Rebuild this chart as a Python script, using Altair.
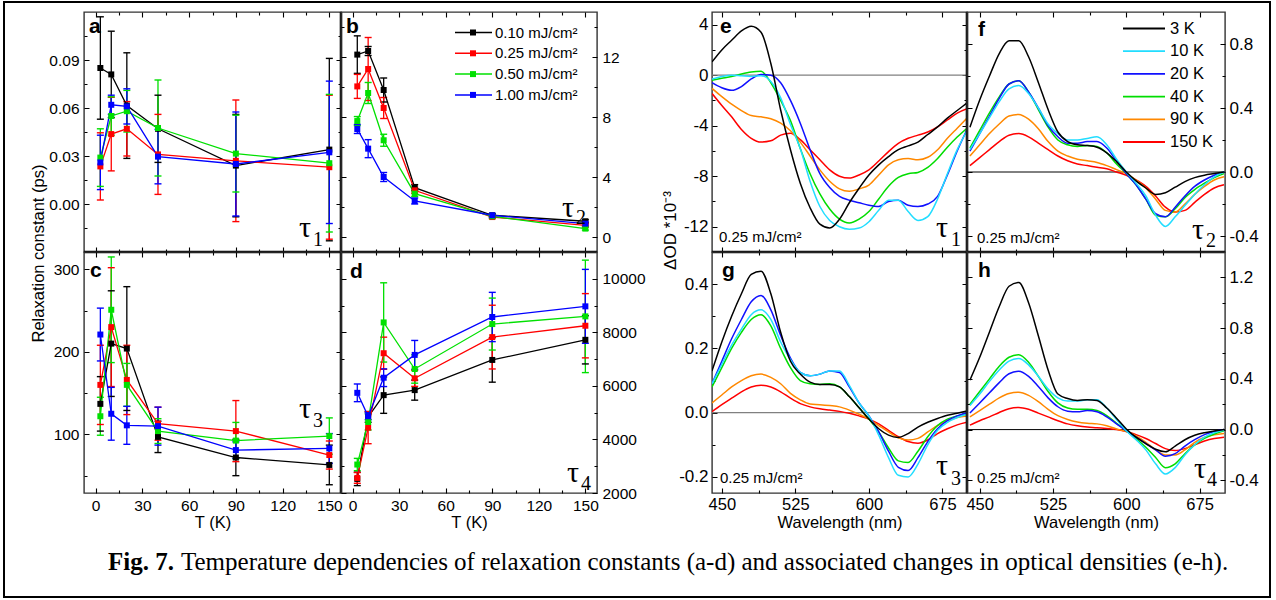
import json
import altair as alt
import pandas as pd

# ------------------------------------------------------------------ data
T_K = [3, 10, 20, 40, 90, 150]
FLUENCE = ["0.10 mJ/cm²", "0.25 mJ/cm²", "0.50 mJ/cm²", "1.00 mJ/cm²"]
FLUENCE_COLORS = ["#000000", "#ff0000", "#00e000", "#0000ff"]

TAU1 = [
    [0.085, 0.081, 0.0615, 0.047, 0.024, 0.034],
    [0.0235, 0.0437, 0.047, 0.031, 0.027, 0.023],
    [0.029, 0.055, 0.058, 0.0475, 0.0315, 0.0255],
    [0.026, 0.062, 0.061, 0.0296, 0.025, 0.0323],
]
TAU1_ERR = [
    [0.032, 0.027, 0.033, 0.021, 0.032, 0.057],
    [0.021, 0.023, 0.017, 0.025, 0.038, 0.045],
    [0.018, 0.012, 0.013, 0.030, 0.024, 0.043],
    [0.017, 0.006, 0.011, 0.017, 0.0325, 0.0445],
]
TAU2 = [
    [12.16, 12.4, 9.8, 3.29, 1.45, 1.05],
    [10.04, 11.2, 8.6, 3.11, 1.33, 0.78],
    [7.73, 9.6, 6.45, 2.89, 1.38, 0.56],
    [7.2, 5.89, 4.0, 2.4, 1.45, 0.89],
]
TAU2_ERR = [
    [1.25, 0.3, 0.8, 0.2, 0.1, 0.1],
    [0.8, 2.1, 0.7, 0.2, 0.1, 0.1],
    [0.3, 0.7, 0.4, 0.2, 0.1, 0.1],
    [0.3, 0.6, 0.3, 0.2, 0.1, 0.1],
]
TAU3 = [
    [137, 210, 204, 97, 72, 63],
    [160, 230, 166, 113, 104, 75],
    [122, 251, 160, 104, 92.5, 98],
    [221, 125, 111, 110, 81, 83],
]
TAU3_ERR = [
    [33, 64, 75, 19, 22, 24],
    [48, 72, 42, 20, 37, 17],
    [23, 64, 26, 15, 22, 22],
    [32, 32, 23, 23, 10, 18],
]
TAU4 = [
    [2526, 4840, 5655, 5842, 6969, 7720],
    [2563, 4441, 7220, 6282, 7822, 8246],
    [3063, 4653, 8370, 6631, 8309, 8596],
    [5741, 4866, 6305, 7157, 8573, 8971],
]
TAU4_ERR = [
    [250, 200, 680, 375, 830, 900],
    [200, 600, 600, 300, 1190, 1200],
    [230, 300, 1480, 530, 970, 2100],
    [330, 130, 330, 540, 920, 1380],
]

TEMPS = ["3 K", "10 K", "20 K", "40 K", "90 K", "150 K"]
TEMP_COLORS = ["#000000", "#22ddff", "#1010ff", "#00dd00", "#ff8800", "#ff0000"]
WAVELENGTH = [440, 450, 460, 470, 480, 490, 500, 510, 520, 530, 540, 550, 560, 570,
              580, 590, 600, 610, 620, 630, 640, 650, 660, 670, 680, 690, 700]

# order of rows: 3 K, 10 K, 20 K, 40 K, 90 K, 150 K
SPEC_TAU1 = [
    [1.05, 2.0, 2.76, 3.5, 3.87, 3.4, 0.92, -2.76, -5.9, -8.55, -10.5, -11.8, -12.1, -11.4,
     -10.1, -8.95, -7.9, -7.1, -6.45, -5.9, -5.6, -5.3, -4.7, -4.1, -3.4, -2.8, -2.2],
    [-0.3, -0.1, 0.0, -0.05, -0.1, -0.05, -0.5, -1.8, -3.9, -5.8, -8.4, -10.4, -11.5, -12.0,
     -12.2, -12.1, -11.6, -10.7, -9.9, -9.9, -10.8, -11.5, -11.2, -9.8, -7.8, -5.9, -4.4],
    [-0.6, -1.0, -1.2, -0.9, -0.3, 0.05, 0.0, -0.6, -2.0, -3.8, -5.9, -7.8, -8.9, -9.6,
     -9.9, -10.1, -10.3, -10.4, -10.0, -9.9, -10.3, -10.4, -10.2, -9.6, -7.9, -6.0, -4.3],
    [-0.4, -0.25, -0.1, 0.1, 0.25, 0.3, -0.6, -2.0, -3.6, -5.8, -7.8, -9.4, -10.6, -11.4,
     -11.7, -11.4, -10.8, -9.8, -8.8, -8.1, -7.8, -7.7, -7.3, -6.6, -5.7, -4.9, -4.2],
    [-1.05, -1.7, -2.3, -2.8, -3.2, -3.3, -3.45, -3.8, -4.4, -5.3, -6.4, -7.5, -8.4, -9.0,
     -9.2, -9.0, -8.7, -7.9, -7.1, -6.7, -6.6, -6.7, -6.5, -5.9, -5.0, -4.2, -3.4],
    [-1.45, -2.4, -3.3, -4.3, -5.0, -5.3, -5.2, -4.75, -4.6, -5.1, -5.9, -6.7, -7.5, -8.0,
     -8.15, -7.9, -7.5, -6.8, -6.05, -5.4, -5.0, -4.75, -4.5, -4.1, -3.55, -3.0, -2.65],
]
SPEC_TAU2 = [
    [0.28, 0.45, 0.6, 0.74, 0.82, 0.82, 0.72, 0.56, 0.39, 0.25, 0.19, 0.17, 0.165, 0.155,
     0.12, 0.065, 0.0, -0.055, -0.1, -0.14, -0.13, -0.095, -0.06, -0.035, -0.02, -0.01, 0.0],
    [0.14, 0.24, 0.34, 0.44, 0.52, 0.54, 0.49, 0.4, 0.3, 0.24, 0.2, 0.2, 0.21, 0.22,
     0.17, 0.08, 0.0, -0.07, -0.15, -0.27, -0.34, -0.28, -0.21, -0.14, -0.08, -0.03, 0.0],
    [0.13, 0.24, 0.35, 0.46, 0.55, 0.57, 0.5, 0.4, 0.29, 0.22, 0.18, 0.18, 0.19, 0.19,
     0.15, 0.07, -0.01, -0.08, -0.17, -0.26, -0.28, -0.22, -0.15, -0.09, -0.05, -0.02, 0.0],
    [0.15, 0.26, 0.37, 0.47, 0.55, 0.57, 0.5, 0.39, 0.28, 0.2, 0.17, 0.16, 0.165, 0.16,
     0.12, 0.05, -0.01, -0.08, -0.17, -0.27, -0.28, -0.23, -0.16, -0.11, -0.07, -0.035, -0.01],
    [0.1, 0.17, 0.24, 0.3, 0.35, 0.36, 0.33, 0.27, 0.19, 0.13, 0.1, 0.08, 0.07, 0.06,
     0.04, 0.015, -0.01, -0.05, -0.1, -0.17, -0.24, -0.25, -0.2, -0.14, -0.09, -0.05, -0.03],
    [0.04, 0.09, 0.14, 0.19, 0.23, 0.24, 0.22, 0.18, 0.14, 0.1, 0.07, 0.05, 0.04, 0.03,
     0.02, 0.0, -0.02, -0.05, -0.09, -0.15, -0.22, -0.25, -0.24, -0.19, -0.14, -0.1, -0.08],
]
SPEC_TAU3 = [
    [0.13, 0.22, 0.3, 0.37, 0.43, 0.44, 0.37, 0.25, 0.16, 0.12, 0.095, 0.088, 0.088, 0.08,
     0.05, 0.015, -0.02, -0.05, -0.07, -0.077, -0.065, -0.045, -0.03, -0.018, -0.008, -0.002, 0.005],
    [0.09, 0.15, 0.21, 0.26, 0.305, 0.32, 0.29, 0.22, 0.165, 0.125, 0.115, 0.12, 0.13, 0.13,
     0.085, 0.03, -0.01, -0.07, -0.14, -0.195, -0.2, -0.16, -0.1, -0.055, -0.03, -0.015, -0.005],
    [0.09, 0.16, 0.23, 0.29, 0.345, 0.365, 0.32, 0.24, 0.17, 0.125, 0.115, 0.12, 0.13, 0.125,
     0.08, 0.03, -0.01, -0.06, -0.12, -0.17, -0.18, -0.14, -0.09, -0.05, -0.025, -0.01, 0.0],
    [0.08, 0.14, 0.2, 0.25, 0.29, 0.305, 0.27, 0.2, 0.14, 0.1, 0.09, 0.088, 0.09, 0.08,
     0.05, 0.015, -0.02, -0.06, -0.11, -0.15, -0.155, -0.12, -0.075, -0.04, -0.02, -0.01, -0.005],
    [0.03, 0.055, 0.08, 0.1, 0.115, 0.12, 0.11, 0.09, 0.06, 0.04, 0.027, 0.025, 0.022, 0.018,
     0.008, -0.005, -0.02, -0.04, -0.06, -0.078, -0.085, -0.08, -0.06, -0.04, -0.025, -0.015, -0.01],
    [0.003, 0.025, 0.045, 0.065, 0.08, 0.085, 0.08, 0.065, 0.045, 0.028, 0.018, 0.012, 0.008, 0.004,
     -0.002, -0.01, -0.02, -0.035, -0.055, -0.075, -0.09, -0.095, -0.085, -0.065, -0.05, -0.038, -0.03],
]
SPEC_TAU4 = [
    [0.39, 0.57, 0.77, 0.97, 1.13, 1.16, 1.0, 0.74, 0.47, 0.28, 0.245, 0.23, 0.235, 0.23,
     0.17, 0.09, 0.005, -0.06, -0.11, -0.155, -0.175, -0.13, -0.08, -0.045, -0.025, -0.012, 0.0],
    [0.19, 0.28, 0.38, 0.47, 0.54, 0.56, 0.51, 0.42, 0.32, 0.25, 0.225, 0.225, 0.235, 0.235,
     0.17, 0.08, -0.01, -0.08, -0.16, -0.27, -0.35, -0.3, -0.2, -0.12, -0.06, -0.025, -0.005],
    [0.13, 0.21, 0.29, 0.37, 0.44, 0.46, 0.42, 0.34, 0.25, 0.18, 0.145, 0.14, 0.15, 0.14,
     0.1, 0.045, -0.01, -0.06, -0.11, -0.16, -0.21, -0.19, -0.13, -0.08, -0.04, -0.015, 0.0],
    [0.2, 0.3, 0.4, 0.5, 0.57, 0.59, 0.53, 0.42, 0.3, 0.21, 0.17, 0.16, 0.16, 0.15,
     0.11, 0.05, -0.01, -0.07, -0.14, -0.22, -0.3, -0.27, -0.19, -0.12, -0.07, -0.035, -0.01],
    [0.1, 0.15, 0.2, 0.25, 0.285, 0.295, 0.27, 0.22, 0.16, 0.11, 0.08, 0.06, 0.05, 0.045,
     0.03, 0.005, -0.015, -0.05, -0.1, -0.16, -0.2, -0.2, -0.16, -0.1, -0.06, -0.04, -0.03],
    [0.035, 0.07, 0.1, 0.135, 0.165, 0.175, 0.16, 0.13, 0.1, 0.07, 0.045, 0.03, 0.02, 0.015,
     0.008, 0.0, -0.015, -0.04, -0.07, -0.11, -0.15, -0.165, -0.15, -0.12, -0.09, -0.07, -0.06],
]

CAPTION_BOLD = "Fig. 7."
CAPTION_TEXT = ("Temperature dependencies of relaxation constants (a-d) and associated "
                "changes in optical densities (e-h).")

# ------------------------------------------------------------------ helpers
SANS = "Liberation Sans"
SERIF = "Liberation Serif"
T_MAJ, T_MIN = [0, 30, 60, 90, 120, 150], [15, 45, 75, 105, 135]
WL_MAJ, WL_MIN = [450, 525, 600, 675], [487.5, 562.5, 637.5]
TAU_FS, SUB_FS = 30, 20
LAB_LEFT, LAB_RIGHT = 15.5, 17


def make_axis(orient, majors, minors, fmt, span, size, **kw):
    test = "indexof(%s, datum.value) < 0" % json.dumps(majors)
    return alt.Axis(
        orient=orient, values=sorted(majors + minors), format=fmt,
        labelExpr=test + " ? '' : replace(datum.label, '\u2212', '-')",
        ticks=False, domain=False, grid=True, gridColor="#000000", gridOpacity=1,
        gridWidth=1.1,
        gridDash={"condition": {"test": test, "value": [3, span - 6, 3]},
                  "value": [5, span - 10, 5]},
        labelFont=SANS, labelFontSize=size, labelColor="#000000",
        labelFlush=False, labelOverlap=False, **kw)


def txt(s, x, y, size, font=SANS, weight="normal", align="left", baseline="alphabetic"):
    return alt.Chart(pd.DataFrame({"t": [s]})).mark_text(
        font=font, fontSize=size, fontWeight=weight, align=align, baseline=baseline,
        color="#000000").encode(x=alt.value(x), y=alt.value(y), text="t:N")


def tau_label(digit, x, y, dx, dy):
    return [txt("τ", x, y, TAU_FS, SERIF), txt(digit, dx, dy, SUB_FS, SERIF)]


def edge(w, h, right=False, bottom=False):
    out = []
    one = pd.DataFrame({"k": [0]})
    if right:
        out.append(alt.Chart(one).mark_rule(color="#000000", strokeWidth=2.6).encode(
            x=alt.value(w), y=alt.value(0), y2=alt.value(h)))
    if bottom:
        out.append(alt.Chart(one).mark_rule(color="#000000", strokeWidth=2.6).encode(
            x=alt.value(0), x2=alt.value(w), y=alt.value(h)))
    return out


def tau_panel(vals, errs, ydom, ymaj, ymin, yfmt, yorient, w, h, bottom_row, extra, ykw=None):
    rows = []
    for name, v, e in zip(FLUENCE, vals, errs):
        for t, y, d in zip(T_K, v, e):
            rows.append({"x": t, "y": y, "ylo": y - d, "yhi": y + d, "s": name})
    df = pd.DataFrame(rows)
    if bottom_row:
        xkw = dict(labels=True, labelPadding=5, title="T (K)", titleFont=SANS, titleFontSize=16.5,
                   titleFontWeight="normal", titleColor="#000000", titlePadding=1)
    else:
        xkw = dict(labels=False, title=None)
    ykw = ykw or {"title": None}
    xax = make_axis("bottom", T_MAJ, T_MIN, "d", h, LAB_LEFT, **xkw)
    yax = make_axis(yorient, ymaj, ymin, yfmt, w, LAB_LEFT, labelPadding=5, **ykw)
    xs = alt.Scale(domain=[-7.5, 157.5], nice=False, zero=False)
    ys = alt.Scale(domain=ydom, nice=False, zero=False)
    X = alt.X("x:Q", scale=xs, axis=xax)
    col = alt.Color("s:N", scale=alt.Scale(domain=FLUENCE, range=FLUENCE_COLORS), legend=None)
    base = alt.Chart(df)
    err = base.mark_rule(strokeWidth=1.3, clip=True).encode(
        X, alt.Y("ylo:Q", scale=ys, axis=yax), y2="yhi:Q", color=col)
    cap_lo = base.mark_tick(orient="horizontal", size=7, thickness=1.4, clip=True, opacity=1).encode(
        X, alt.Y("ylo:Q", scale=ys, axis=yax), color=col)
    cap_hi = base.mark_tick(orient="horizontal", size=7, thickness=1.4, clip=True, opacity=1).encode(
        X, alt.Y("yhi:Q", scale=ys, axis=yax), color=col)
    line = base.mark_line(strokeWidth=1.3, clip=True).encode(
        X, alt.Y("y:Q", scale=ys, axis=yax), color=col)
    pts = base.mark_point(shape="square", filled=True, size=36, opacity=1, clip=True).encode(
        X, alt.Y("y:Q", scale=ys, axis=yax), color=col)
    return alt.layer(err, cap_lo, cap_hi, line, pts, *extra).properties(width=w, height=h)


def spec_panel(curves, xdom, ydom, ymaj, ymin, yfmt, yorient, w, h, bottom_row, zero_color,
               zero_width, extra, ykw=None):
    rows = []
    for name, c in reversed(list(zip(TEMPS, curves))):
        for wl, v in zip(WAVELENGTH, c):
            rows.append({"x": wl, "y": v, "s": name})
    df = pd.DataFrame(rows)
    if bottom_row:
        xkw = dict(labels=True, labelPadding=3, title="Wavelength (nm)", titleFont=SANS,
                   titleFontSize=16.5, titleFontWeight="normal", titleColor="#000000",
                   titlePadding=2)
    else:
        xkw = dict(labels=False, title=None)
    ykw = ykw or {"title": None}
    xax = make_axis("bottom", WL_MAJ, WL_MIN, "d", h, 16.5, **xkw)
    yax = make_axis(yorient, ymaj, ymin, yfmt, w, LAB_RIGHT, labelPadding=4, **ykw)
    xs = alt.Scale(domain=xdom, nice=False, zero=False)
    ys = alt.Scale(domain=ydom, nice=False, zero=False)
    X = alt.X("x:Q", scale=xs, axis=xax)
    Y = alt.Y("y:Q", scale=ys, axis=yax)
    col = alt.Color("s:N", scale=alt.Scale(domain=TEMPS, range=TEMP_COLORS), legend=None)
    zero = alt.Chart(pd.DataFrame({"y": [0]})).mark_rule(
        color=zero_color, strokeWidth=zero_width).encode(alt.Y("y:Q", scale=ys, axis=yax))
    lines = alt.Chart(df).mark_line(strokeWidth=1.5, interpolate="monotone", clip=True).encode(
        X, Y, color=col)
    return alt.layer(zero, lines, *extra).properties(width=w, height=h)


# ------------------------------------------------------------------ legends
leg_b_df = pd.DataFrame({"s": FLUENCE, "yp": [20.5, 41.3, 62.1, 82.9]})
fcol = alt.Color("s:N", scale=alt.Scale(domain=FLUENCE, range=FLUENCE_COLORS), legend=None)
YP = alt.Y("yp:Q", scale=None, axis=None)
legend_b = [
    alt.Chart(leg_b_df).mark_rule(strokeWidth=1.5).encode(
        x=alt.value(114), x2=alt.value(151), y=YP, color=fcol),
    alt.Chart(leg_b_df).mark_point(shape="square", filled=True, size=36, opacity=1).encode(
        x=alt.value(132), y=YP, color=fcol),
    alt.Chart(leg_b_df).mark_text(align="left", baseline="middle", font=SANS, fontSize=15,
                                  color="#000000").encode(x=alt.value(154), y=YP, text="s:N"),
]
leg_f_df = pd.DataFrame({"s": TEMPS, "yp": [16.5, 39.2, 61.9, 84.6, 107.3, 130.0]})
tcol = alt.Color("s:N", scale=alt.Scale(domain=TEMPS, range=TEMP_COLORS), legend=None)
legend_f = [
    alt.Chart(leg_f_df).mark_rule(strokeWidth=1.8).encode(
        x=alt.value(156), x2=alt.value(198), y=YP, color=tcol),
    alt.Chart(leg_f_df).mark_text(align="left", baseline="middle", font=SANS, fontSize=16.5,
                                  color="#000000").encode(x=alt.value(203), y=YP, text="s:N"),
]

# ------------------------------------------------------------------ panels
WA, WB, H1, H2 = 257, 256, 240, 241
WE, WF = 255, 258
GAP = 115

pa = tau_panel(TAU1, TAU1_ERR, [-0.03, 0.12], [0, 0.03, 0.06, 0.09],
               [-0.015, 0.015, 0.045, 0.075, 0.105], ".2f", "left", WA, H1, False,
               [txt("a", 5, 21, 21, weight="bold")] + tau_label("1", 215, 225, 229, 234)
               + edge(WA, H1, right=True, bottom=True),
               ykw=dict(title="Relaxation constant (ps)", titleX=-46, titleY=241, titleAngle=270,
                        titleAlign="center", titleBaseline="middle", titleFont=SANS,
                        titleFontSize=16.5, titleFontWeight="normal", titleColor="#000000"))
pb = tau_panel(TAU2, TAU2_ERR, [-1, 15], [0, 4, 8, 12], [2, 6, 10, 14], "d", "right",
               WB, H1, False,
               [txt("b", 5, 21, 21, weight="bold")] + tau_label("2", 221, 205, 235, 212)
               + legend_b + edge(WB, H1, bottom=True))
pc = tau_panel(TAU3, TAU3_ERR, [29, 321], [100, 200, 300], [50, 150, 250], "d", "left",
               WA, H2, True,
               [txt("c", 6, 25, 21, weight="bold")] + tau_label("3", 215, 166, 229, 175)
               + edge(WA, H2, right=True))
pd_ = tau_panel(TAU4, TAU4_ERR, [2000, 11000], [2000, 4000, 6000, 8000, 10000],
                [3000, 5000, 7000, 9000], "d", "right", WB, H2, True,
                [txt("d", 9, 26, 21, weight="bold")] + tau_label("4", 226, 230, 240, 238))

pe = spec_panel(SPEC_TAU1, [440, 700], [-14, 5], [-12, -8, -4, 0, 4], [-10, -6, -2, 2], "d",
                "left", WE, H1, False, "#808080", 1.4,
                [txt("e", 8, 21, 21, weight="bold"), txt("0.25 mJ/cm²", 7, 230, 15)]
                + tau_label("1", 224, 225, 239, 234) + edge(WE, H1, right=True, bottom=True),
                ykw=dict(title="ΔOD *10⁻³", titleX=-42, titleY=218, titleAngle=270,
                         titleAlign="center", titleBaseline="middle", titleFont=SANS,
                         titleFontSize=17, titleFontWeight="normal", titleColor="#000000"))
pf = spec_panel(SPEC_TAU2, [437, 701], [-0.5, 1.0], [-0.4, 0.0, 0.4, 0.8], [-0.2, 0.2, 0.6],
                ".1f", "right", WF, H1, False, "#000000", 1.0,
                [txt("f", 11, 24, 21, weight="bold"), txt("0.25 mJ/cm²", 10, 231, 15)]
                + tau_label("2", 225, 227, 239, 235) + legend_f + edge(WF, H1, bottom=True))
pg = spec_panel(SPEC_TAU3, [440, 700], [-0.25, 0.5], [-0.2, 0.0, 0.2, 0.4], [-0.1, 0.1, 0.3],
                ".1f", "left", WE, H2, True, "#808080", 1.4,
                [txt("g", 10, 25, 21, weight="bold"), txt("0.25 mJ/cm²", 8, 231, 15)]
                + tau_label("3", 224, 223, 239, 233) + edge(WE, H2, right=True))
ph = spec_panel(SPEC_TAU4, [437, 701], [-0.5, 1.4], [-0.4, 0.0, 0.4, 0.8, 1.2],
                [-0.2, 0.2, 0.6, 1.0], ".1f", "right", WF, H2, True, "#000000", 1.0,
                [txt("h", 11, 25, 21, weight="bold"), txt("0.25 mJ/cm²", 10, 231, 15)]
                + tau_label("4", 227, 226, 240, 234))

NOSTROKE = alt.ViewBackground(strokeOpacity=0)


def spacer(h):
    return alt.Chart(pd.DataFrame({"k": [0]})).mark_text(text=" ").encode(
        x=alt.value(0), y=alt.value(0)).properties(width=GAP, height=h, view=NOSTROKE)


# ------------------------------------------------------------------ caption + frame
frame = alt.Chart(pd.DataFrame({"k": [0]})).mark_rect(
    fillOpacity=0, stroke="#000000", strokeWidth=2).encode(
    x=alt.value(-80), x2=alt.value(1186), y=alt.value(-491), y2=alt.value(104))
caption = alt.layer(
    txt(CAPTION_BOLD, 24, 77, 25, SERIF, weight="bold"),
    txt(CAPTION_TEXT, 97, 77, 25, SERIF),
    frame,
).properties(width=WA, height=100, view=NOSTROKE)

chart = alt.concat(
    pa, pb, spacer(H1), pe, pf,
    pc, pd_, spacer(H2), pg, ph,
    caption,
    columns=5, spacing=0, bounds="flush",
).resolve_scale(x="independent", y="independent", color="independent").properties(
    padding={"left": 3, "top": 1, "right": 5, "bottom": 2},
    background="white",
).configure_view(stroke="#333333", strokeWidth=1.4)

chart.save("out.html", embed_options={"renderer": "svg", "actions": False})
